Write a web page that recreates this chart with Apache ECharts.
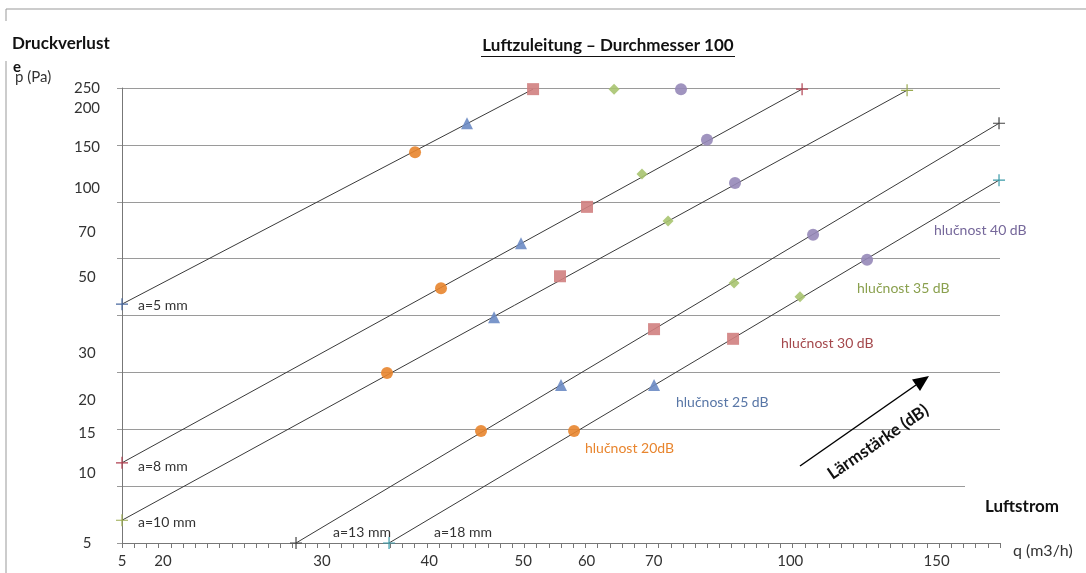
<!DOCTYPE html>
<html><head><meta charset="utf-8">
<script src="https://cdn.jsdelivr.net/npm/echarts@6/dist/echarts.min.js"></script>
<style>html,body{margin:0;padding:0;background:#fff}#c{width:1086px;height:573px}</style>
</head><body><div id="c"></div>
<script>
// Axis tick labels (the chart's printed labels) and their positions in axis units
const xTickLabels = ['5','20','30','40','50','60','70','100','150'];
const xTickPos    = [0, 3.36, 16.4, 25.2, 32.9, 38.1, 43.6, 54.8, 66.8];
const yTickLabels = ['5','10','15','20','30','50','70','100','150','200','250'];
const yTickPos    = [0, 1.23, 1.93, 2.51, 3.34, 4.67, 5.47, 6.24, 6.96, 7.64, 8];

// Noise-level markers
const noise20 = [[24.03,6.87],[26.16,4.48],[21.73,2.99],[29.44,1.97],[37.07,1.97]];
const noise25 = [[28.29,7.38],[32.72,5.27],[30.51,3.97],[36.0,2.78],[43.63,2.78]];
const noise30 = [[33.71,7.98],[38.13,5.91],[35.92,4.69],[43.63,3.76],[50.11,3.59]];
const noise35 = [[40.35,7.98],[42.64,6.49],[44.78,5.66],[50.19,4.57],[55.6,4.33]];
const noise40 = [[45.84,7.98],[47.97,7.09],[50.27,6.33],[56.67,5.42],[61.1,4.98]];

// Opening lines a = 5..18 mm
const lineA5  = [[0,4.20],[33.71,7.98]];
const lineA8  = [[0,1.41],[55.77,7.98]];
const lineA10 = [[0,0.40],[64.38,7.96]];
const lineA13 = [[14.27,0],[71.92,7.38]];
const lineA18 = [[21.9,0],[71.92,6.38]];

const FONT = 'Lato, "Open Sans", sans-serif';
const PLUS = 'path://M0,4.5h10v1h-10z M4.5,0h1v10h-1z';
const range = (a,b)=>{const r=[];for(let i=a;i<=b;i++)r.push(i);return r;};
const lookup = (pos, labels) => v => { for (let i=0;i<pos.length;i++) if (Math.abs(pos[i]-v)<1e-6) return labels[i]; return ''; };

function lineSeries(name, data, plusColor, showStart, showEnd){
  return {
    type:'line', name, z:3,
    data: data.map((d,i)=>({
      value:d,
      symbol: (i===0?showStart:showEnd) ? PLUS : 'none',
      symbolSize: 12
    })),
    showSymbol:true, silent:true,
    itemStyle:{color:plusColor},
    lineStyle:{color:'#3a3a3a', width:1},
    animation:false
  };
}
function scatter(name, data, symbol, size, color){
  return {type:'scatter', name, data, symbol, symbolSize:size, itemStyle:{color, opacity:0.9}, z:4, animation:false};
}

const chart = echarts.init(document.getElementById('c'));
const txt = (text, x, y, opt={}) => ({
  type:'text', x, y, z:101,
  style: {text, font:`${opt.weight||'normal'} ${opt.size||13}px ${FONT}`, fill: opt.color||'#333',
    align: opt.align||'left', verticalAlign:'middle'},
  rotation: opt.rotation||0
});
const whiteBox = (x,y,w,h) => ({type:'rect', z:100, shape:{x,y,width:w,height:h}, style:{fill:'#fff'}});

chart.setOption({
  backgroundColor:'#fff',
  animation:false,
  grid:{left:122, top:88, right:86, bottom:30, containLabel:false},
  xAxis:{
    type:'value', min:0, max:72,
    axisLine:{show:true, lineStyle:{color:'#777', width:1}},
    axisTick:{show:true, customValues: range(0,72), length:5, inside:false, lineStyle:{color:'#777'}},
    axisLabel:{customValues: xTickPos, formatter: lookup(xTickPos, xTickLabels), color:'#333', fontSize:15, fontFamily:FONT, margin:11},
    splitLine:{show:false}
  },
  yAxis:{
    type:'value', min:0, max:8,
    axisLine:{show:true, lineStyle:{color:'#777', width:1}},
    axisTick:{show:true, customValues: range(0,8), length:5, lineStyle:{color:'#999'}},
    axisLabel:{customValues: yTickPos, formatter: lookup(yTickPos, yTickLabels), color:'#333', fontSize:15, fontFamily:FONT, margin:35, align:'center'},
    splitLine:{show:true, lineStyle:{color:'#9a9a9a', width:1}}
  },
  series:[
    lineSeries('a=5 mm',  lineA5,  '#4a6aa0', true, false),
    lineSeries('a=8 mm',  lineA8,  '#b04050', true, true),
    lineSeries('a=10 mm', lineA10, '#9aaa50', true, true),
    lineSeries('a=13 mm', lineA13, '#444444', true, true),
    lineSeries('a=18 mm', lineA18, '#3a9aa8', true, true),
    scatter('hlučnost 20dB',  noise20, 'circle',   12, '#e8852e'),
    scatter('hlučnost 25 dB', noise25, 'triangle', 12, '#6b8bc4'),
    scatter('hlučnost 30 dB', noise30, 'rect',     12, '#d08080'),
    scatter('hlučnost 35 dB', noise35, 'diamond',  11, '#a8c470'),
    scatter('hlučnost 40 dB', noise40, 'circle',   12, '#9688b8')
  ],
  graphic:[
    {type:'line', z:1, shape:{x1:6,y1:9,x2:1086,y2:9}, style:{stroke:'#999', lineWidth:1}},
    {type:'line', z:1, shape:{x1:6,y1:9,x2:6,y2:573}, style:{stroke:'#999', lineWidth:1}},
    whiteBox(0, 21, 118, 40),
    txt('Druckverlust', 12, 44, {weight:'bold', size:17, color:'#111'}),
    txt('e', 13, 67, {weight:'bold', size:15, color:'#111'}),
    txt('p (Pa)', 15, 77, {size:15, color:'#333'}),
    txt('Luftzuleitung – Durchmesser 100', 608, 46, {weight:'bold', size:17, color:'#111', align:'center'}),
    {type:'line', z:101, shape:{x1:481,y1:56.5,x2:735,y2:56.5}, style:{stroke:'#111', lineWidth:1}},
    whiteBox(965, 481, 121, 36),
    txt('Luftstrom', 985, 507, {weight:'bold', size:17, color:'#111'}),
    txt('q (m3/h)', 1013, 551, {size:16, color:'#333'}),
    txt('a=5 mm', 138, 305, {size:14}),
    txt('a=8 mm', 138, 466, {size:14}),
    txt('a=10 mm', 138, 522, {size:14}),
    txt('a=13 mm', 333, 532, {size:14}),
    txt('a=18 mm', 434, 532, {size:14}),
    txt('hlučnost 20dB', 585, 448, {size:14, color:'#e8852e'}),
    txt('hlučnost 25 dB', 676, 402, {size:14, color:'#5876a6'}),
    txt('hlučnost 30 dB', 781, 343, {size:14, color:'#a4484c'}),
    txt('hlučnost 35 dB', 857, 288, {size:14, color:'#8aa04e'}),
    txt('hlučnost 40 dB', 934, 230, {size:14, color:'#75679a'}),
    {type:'line', z:101, shape:{x1:800,y1:466,x2:916,y2:385}, style:{stroke:'#000', lineWidth:1.5}},
    {type:'polygon', z:101, shape:{points:[[929,376],[920,391],[912,379.5]]}, style:{fill:'#000'}},
    txt('Lärmstärke (dB)', 878, 442, {weight:'bold', size:17, color:'#111', align:'center', rotation:0.604})
  ]
});
</script>
</body></html>
